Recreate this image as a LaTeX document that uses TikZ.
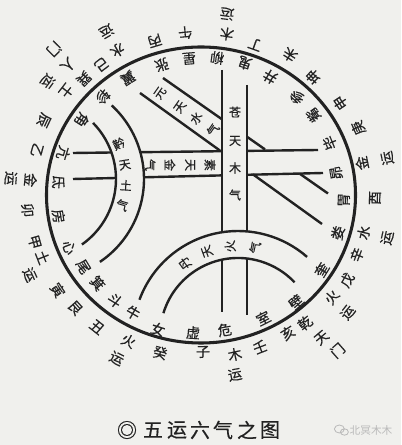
\documentclass[tikz,border=0pt]{standalone}
\usepackage{fontspec}
\newfontfamily\cjk{Noto Sans CJK SC}
\newfontfamily\cjkb[FakeBold=0.5]{Noto Sans CJK SC}
\usetikzlibrary{calc}

\definecolor{paper}{RGB}{240,240,237}
\definecolor{ink}{RGB}{34,34,34}

\begin{document}
\begin{tikzpicture}[x=0.75pt, y=0.75pt,
    band/.style={ink, line width=1.8pt},
    ring/.style={font=\cjkb\fontsize{10.5}{10.5}\selectfont, text=ink, inner sep=0pt},
    qi/.style={font=\cjkb\fontsize{9}{9}\selectfont, text=ink, inner sep=0pt},
    ttl/.style={font=\cjkb\fontsize{15}{15}\selectfont, text=ink, inner sep=0pt}]
    \useasboundingbox[fill=paper] (0,0) rectangle (401,445);
    \coordinate (O) at (201,250);
    \coordinate (Jin) at (36,266);
    \coordinate (Jout) at (44,266);
    \coordinate (Dan) at (238,109);

    % great circle
    \draw[ink, line width=2.3pt] (O) ellipse [x radius=154.5, y radius=148];

    % cang tian (vertical)
    \draw[band] (222,375) -- (222,212.8) (222,185.3) -- (222,133);
    \draw[band] (247,360) -- (247,213.6) (247,186.5) -- (247,130);
    % su tian (horizontal)
    \draw[band] (73,292) -- (111.7,292.5) (140.6,292.8) -- (222,293.8) (247,294.1) -- (318,295);
    \draw[band] (73,266) -- (116,267) (144,267.7) -- (222,269.6) (247,270.2) -- (323,272);
    % xuan tian (diagonal)
    \draw[band] (163,367) -- (222,325.7) (247,308.2) -- (265,295.6) (300,271.1) -- (328,251.5);
    \draw[band] (140,352) -- (220,294.4) (253,270.6) -- (322,221);
    % jin tian (left arcs)
    \draw[band] ($(Jin)+(44.5:80)$) arc[start angle=44.5, end angle=-55, radius=80];
    \draw[band] ($(Jout)+(47.4:100)$) arc[start angle=47.4, end angle=-56, radius=100];
    % dan tian (lower arcs)
    \draw[band] ($(Dan)+(159.8:105)$) arc[start angle=159.8, end angle=48.9, radius=105];
    \draw[band] ($(Dan)+(163:78)$) arc[start angle=163, end angle=43.5, radius=78];

    % the five qi
    \foreach \t/\y [count=\i] in {苍/333,天/304,木/277,气/250}
        \node[qi] (cang\i) at (235,\y) {\t};
    \foreach \t/\x [count=\i] in {素/210,天/190,金/170,气/150}
        \node[qi, rotate=-90] (su\i) at (\x,280) {\t};
    \foreach \t/\x/\y [count=\i] in {元/160/352,天/180/338,水/196/327,气/213/315}
        \node[qi, rotate=55] (xuan\i) at (\x,\y) {\t};
    \foreach \t/\a [count=\i] in {黅/23,天/9,土/-4,气/-17}
        \node[qi, rotate=\a] (jin\i) at ($(Jin)+(\a:90)$) {\t};
    \foreach \t/\a [count=\i] in {丹/126,天/110,火/95,气/79}
        \node[qi, rotate=\a] (dan\i) at ($(Dan)+(\a:90)$) {\t};

    % twenty-eight mansions
    \foreach \t/\a/\rad [count=\i] in {柳/83.3/138,鬼/71.6/139,井/59.7/137,参/45.6/137,
        觜/35.5/138,毕/22/139,昴/9.3/137,胃/-2/143,娄/-15.5/142,奎/-31.8/142,
        壁/-48.4/143,室/-63.2/138,危/-80/137,虚/-93.3/138,女/-107.7/141,牛/-120/136,
        斗/-129.3/136,箕/-139.5/136,尾/-148.6/138,心/-158.3/142,房/-171.5/144,
        氐/174.8/143,亢/163/144,角/147.8/141,轸/135/139,翼/122/138,张/106.7/136,星/95/137}
        \node[ring, rotate=\a+90] (xiu\i) at ($(O)+(\a:\rad)$) {\t};

    % stems, branches and yun
    \foreach \t/\a/\rad [count=\i] in {午/95.6/163,丙/106.7/161,水/120/167,运/120/189,
        己/127.3/164,巽/135.2/165,人/135.7/186,门/135.2/207,土/142.3/170,运/143.4/191,
        辰/154.6/174,乙/164.7/170,金/175/171,运/175/191,卯/185/174,甲/195.8/173,
        土/201.5/170,运/205/189,寅/213.6/172,艮/221.9/169,丑/231.8/168,
        火/243.6/163,运/242.7/184,癸/255.5/163,子/270.7/157,木/282/163,运/280.7/183,
        壬/291.2/163,亥/302.2/163,乾/309.1/165,天/310.2/187,门/311.3/207,
        火/322/166,运/321.3/188,戊/329.8/169,辛/339/167,水/347/167,运/347/191,
        酉/359/174,金/11.2/164,运/11.2/190,庚/23.1/171,申/33.5/167,坤/46.5/163,
        未/57.6/166,丁/70.2/160,木/80.9/163,运/81.8/183}
        \node[ring, rotate=\a+90] (fang\i) at ($(O)+(\a:\rad)$) {\t};

    % title
    \foreach \t/\x [count=\i] in {◎/127,五/153,运/177,六/200,气/223,之/247,图/270}
        \node[ttl] (title\i) at (\x,15) {\t};
    \node[font=\cjk\fontsize{8}{8}\selectfont, text=gray!55, inner sep=0pt] (mark) at (371,15) {北冥木木};
    \draw[gray!55, line width=0.6pt] ($(mark.west)+(-10,1)$) ellipse [x radius=5, y radius=4]
        ($(mark.west)+(-5,-2)$) ellipse [x radius=4, y radius=3.2];
\end{tikzpicture}
\end{document}
